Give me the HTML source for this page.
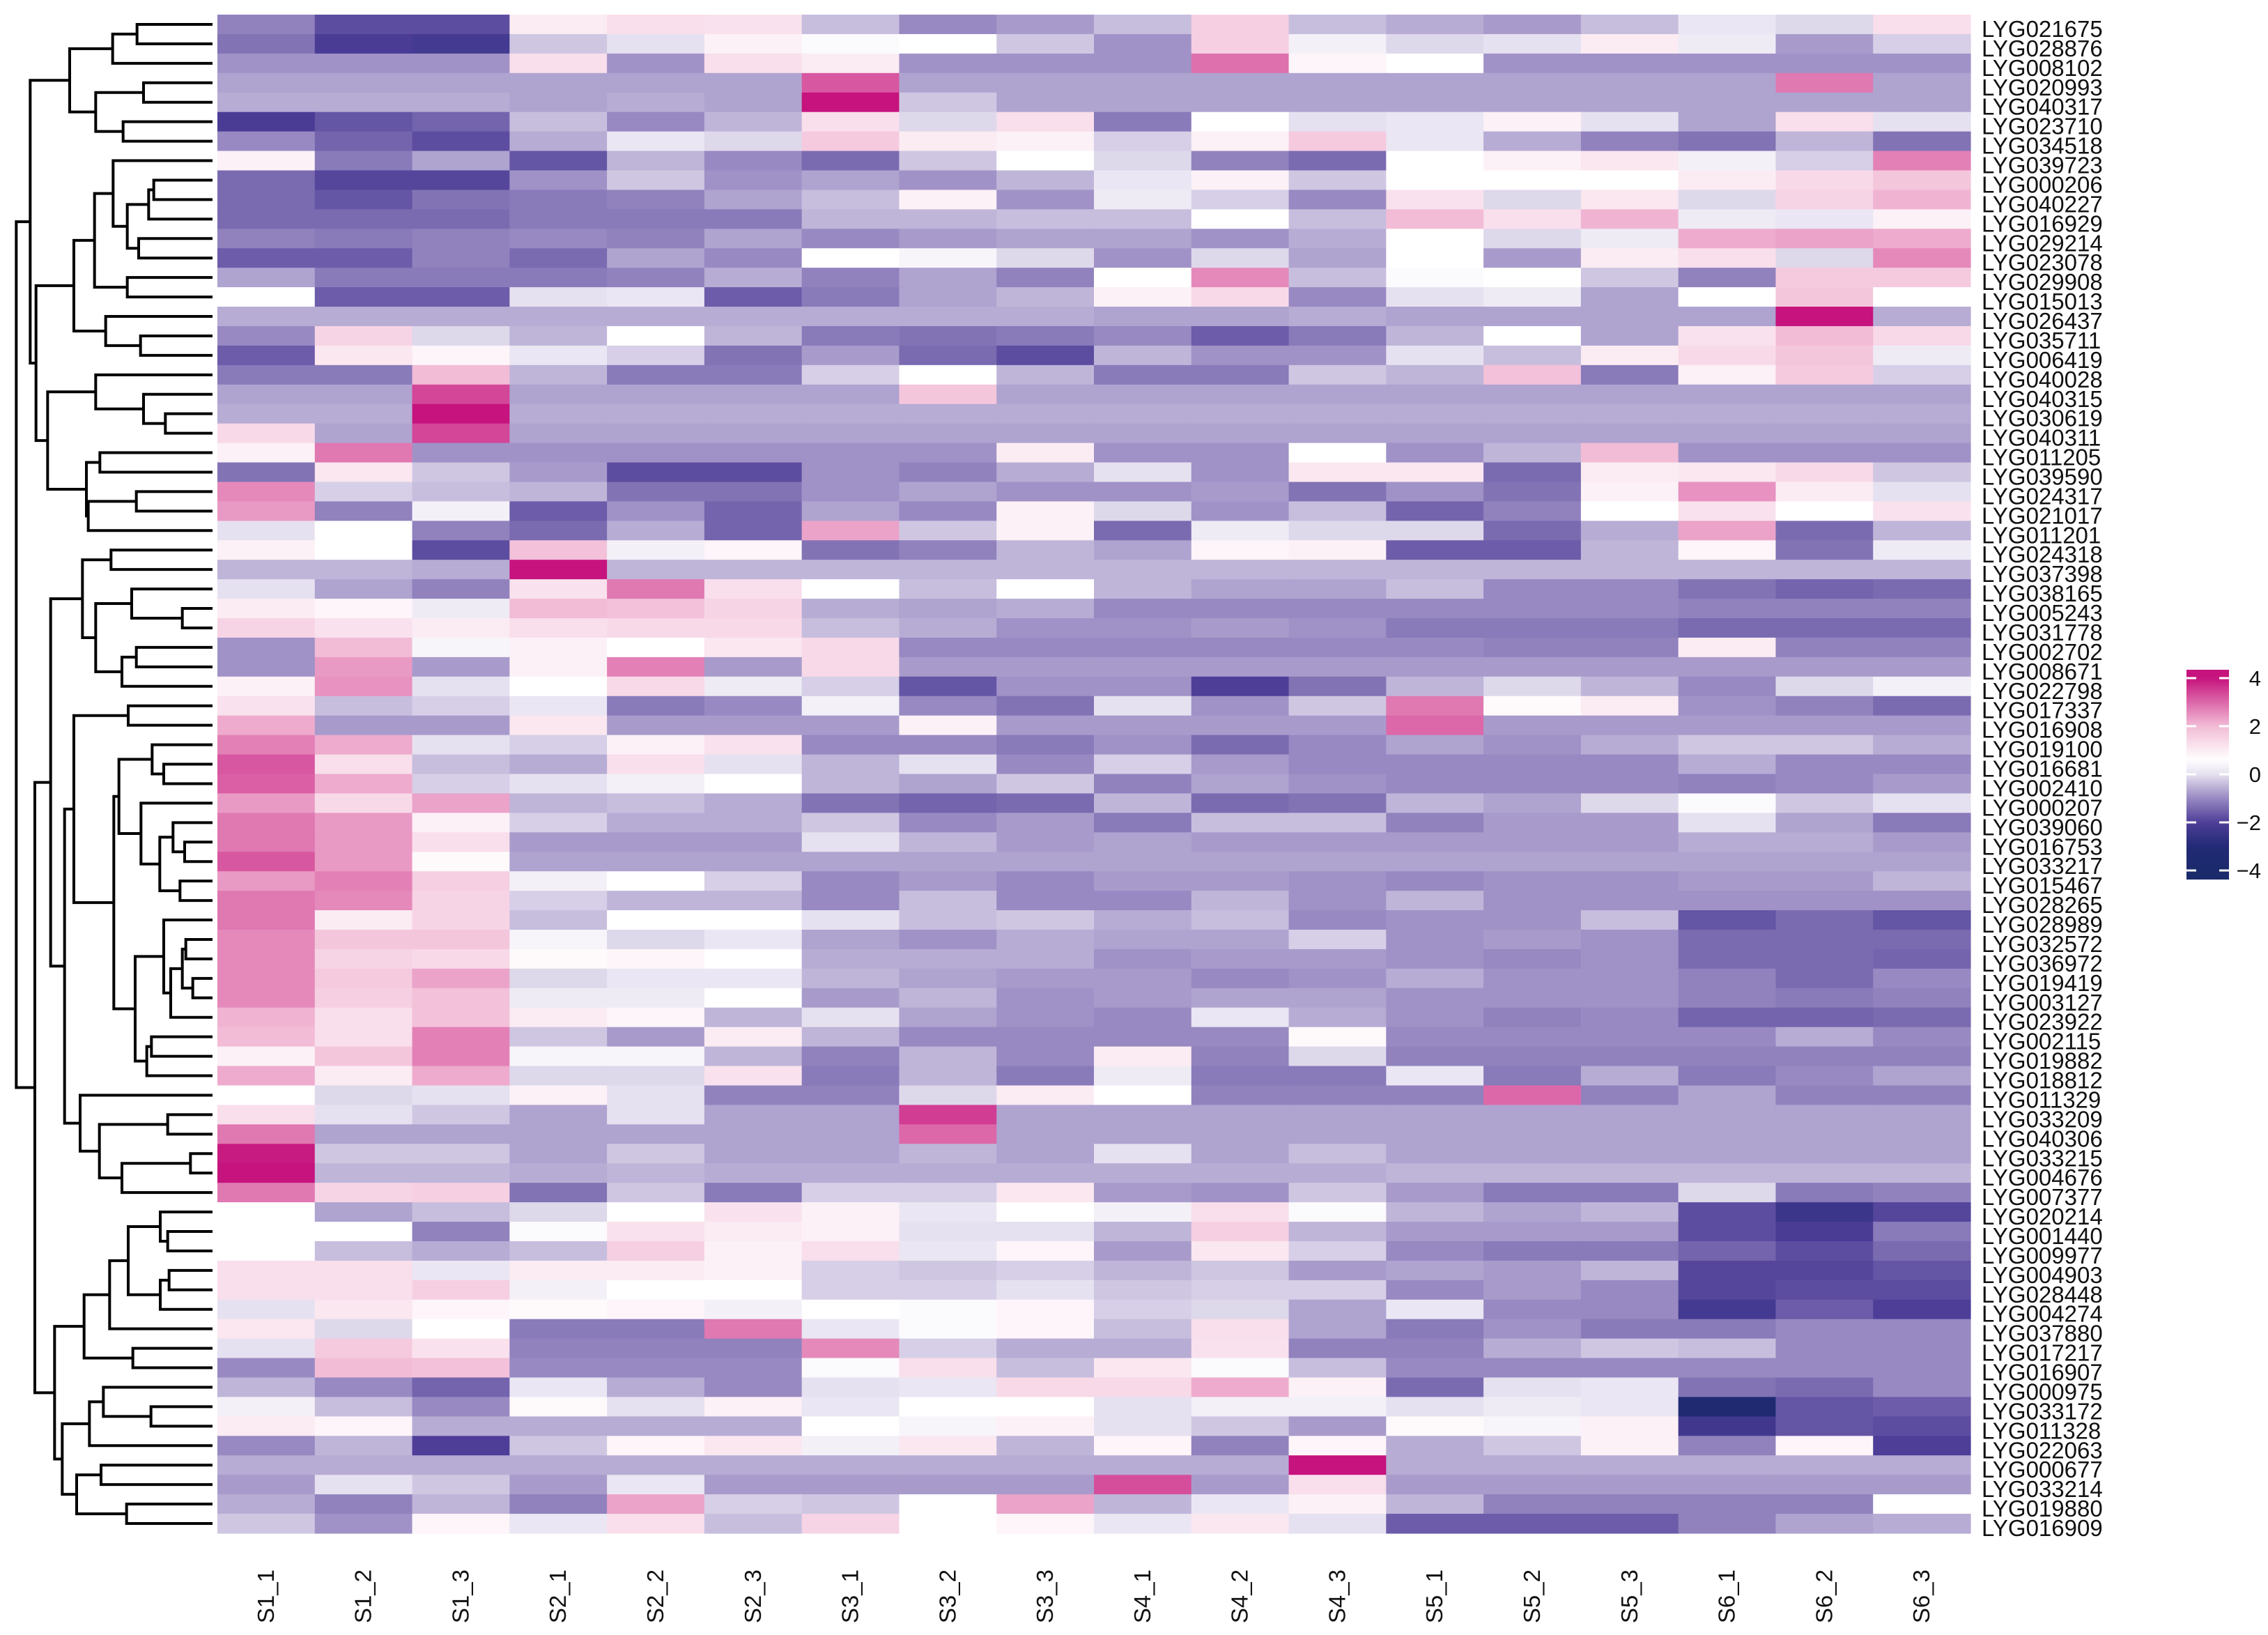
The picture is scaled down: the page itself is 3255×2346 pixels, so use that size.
<!DOCTYPE html>
<html><head><meta charset="utf-8"><style>
html,body{margin:0;padding:0;background:#fff;}
svg{display:block;font-family:"Liberation Sans",Arial,sans-serif;}
</style></head><body>
<svg id="chart" width="3255" height="2346" viewBox="0 0 3255 2346" xmlns="http://www.w3.org/2000/svg">
<rect x="0" y="0" width="3255" height="2346" fill="#fff"/>
<g id="dendro"></g>
<g id="cells"></g>
<g id="rowlabels"></g>
<g id="collabels"></g>
<g id="legend">
<defs><linearGradient id="lg" x1="0" y1="1" x2="0" y2="0"></linearGradient></defs>
</g>
</svg>
<script>
const rowLabels = ["LYG021675","LYG028876","LYG008102","LYG020993","LYG040317","LYG023710","LYG034518","LYG039723","LYG000206","LYG040227","LYG016929","LYG029214","LYG023078","LYG029908","LYG015013","LYG026437","LYG035711","LYG006419","LYG040028","LYG040315","LYG030619","LYG040311","LYG011205","LYG039590","LYG024317","LYG021017","LYG011201","LYG024318","LYG037398","LYG038165","LYG005243","LYG031778","LYG002702","LYG008671","LYG022798","LYG017337","LYG016908","LYG019100","LYG016681","LYG002410","LYG000207","LYG039060","LYG016753","LYG033217","LYG015467","LYG028265","LYG028989","LYG032572","LYG036972","LYG019419","LYG003127","LYG023922","LYG002115","LYG019882","LYG018812","LYG011329","LYG033209","LYG040306","LYG033215","LYG004676","LYG007377","LYG020214","LYG001440","LYG009977","LYG004903","LYG028448","LYG004274","LYG037880","LYG017217","LYG016907","LYG000975","LYG033172","LYG011328","LYG022063","LYG000677","LYG033214","LYG019880","LYG016909"];
const colLabels = ["S1_1","S1_2","S1_3","S2_1","S2_2","S2_3","S3_1","S3_2","S3_3","S4_1","S4_2","S4_3","S5_1","S5_2","S5_3","S6_1","S6_2","S6_3"];
const legendTicks = [4,2,0,-2,-4];
const values = [
[-1.1,-1.8,-1.8,1.0,1.3,1.2,-0.4,-1.0,-0.8,-0.4,1.6,-0.4,-0.6,-0.8,-0.4,0.1,-0.1,1.3],
[-1.3,-2.1,-2.2,-0.3,0.0,0.9,0.5,0.6,-0.3,-0.9,1.6,0.3,-0.1,0.0,1.0,0.2,-0.8,-0.2],
[-0.9,-0.9,-0.9,1.3,-0.9,1.3,1.0,-0.9,-0.9,-0.9,2.9,0.8,0.6,-0.9,-0.9,-0.9,-0.9,-0.9],
[-0.7,-0.7,-0.7,-0.7,-0.7,-0.7,3.2,-0.7,-0.7,-0.7,-0.7,-0.7,-0.7,-0.7,-0.7,-0.7,2.8,-0.7],
[-0.6,-0.6,-0.6,-0.7,-0.6,-0.7,4.0,-0.3,-0.7,-0.7,-0.7,-0.7,-0.7,-0.7,-0.7,-0.7,-0.7,-0.7],
[-2.1,-1.7,-1.5,-0.4,-1.0,-0.5,1.3,-0.1,1.3,-1.2,0.6,0.0,0.1,0.9,0.0,-0.7,1.3,0.0],
[-1.0,-1.5,-1.8,-0.6,0.1,-0.1,1.7,1.0,0.9,-0.2,0.9,1.7,0.1,-0.6,-1.1,-1.3,-0.5,-1.3],
[0.9,-1.2,-0.7,-1.7,-0.5,-1.0,-1.4,-0.3,0.6,-0.1,-1.1,-1.4,0.6,0.9,1.1,0.3,-0.2,2.7],
[-1.4,-1.9,-1.9,-0.9,-0.3,-0.9,-0.7,-0.9,-0.5,0.1,0.9,-0.3,0.6,0.6,0.6,1.0,1.4,1.8],
[-1.4,-1.7,-1.3,-1.2,-1.1,-0.7,-0.4,0.9,-0.9,0.2,-0.2,-1.0,1.2,-0.1,1.1,-0.1,1.5,2.1],
[-1.4,-1.4,-1.4,-1.2,-1.2,-1.2,-0.5,-0.5,-0.4,-0.4,0.6,-0.4,2.0,1.3,2.1,0.2,0.1,0.9],
[-1.1,-1.2,-1.1,-1.0,-1.1,-0.7,-1.0,-0.8,-0.7,-0.7,-0.9,-0.6,0.6,-0.1,0.2,2.2,2.3,2.2],
[-1.6,-1.6,-1.1,-1.4,-0.7,-1.0,0.6,0.4,-0.1,-0.9,-0.1,-0.7,0.6,-0.8,1.0,1.3,-0.1,2.6],
[-0.7,-1.2,-1.2,-1.2,-1.1,-0.6,-1.1,-0.7,-1.1,0.6,2.6,-0.4,0.5,0.6,-0.3,-1.1,1.7,1.7],
[0.6,-1.6,-1.6,0.0,0.1,-1.6,-1.2,-0.7,-0.5,0.9,1.4,-1.0,0.0,0.2,-0.7,0.6,1.8,0.6],
[-0.6,-0.6,-0.6,-0.6,-0.6,-0.6,-0.6,-0.6,-0.6,-0.7,-0.7,-0.6,-0.7,-0.7,-0.7,-0.7,4.0,-0.6],
[-1.0,1.5,-0.1,-0.5,0.6,-0.5,-1.2,-1.3,-1.2,-1.0,-1.6,-1.2,-0.5,0.6,-0.7,1.2,2.0,1.4],
[-1.6,1.1,0.8,0.1,-0.2,-1.3,-0.8,-1.4,-1.8,-0.5,-0.9,-0.9,0.0,-0.4,1.0,1.4,1.8,0.2],
[-1.2,-1.2,2.0,-0.5,-1.2,-1.2,-0.2,0.6,-0.5,-1.2,-1.2,-0.3,-0.5,1.9,-1.2,0.9,1.7,-0.2],
[-0.7,-0.7,3.4,-0.7,-0.7,-0.7,-0.7,1.8,-0.7,-0.7,-0.7,-0.7,-0.7,-0.7,-0.7,-0.7,-0.7,-0.7],
[-0.6,-0.6,4.0,-0.6,-0.6,-0.6,-0.6,-0.6,-0.6,-0.6,-0.6,-0.6,-0.6,-0.6,-0.6,-0.6,-0.6,-0.6],
[1.4,-0.7,3.4,-0.7,-0.7,-0.7,-0.7,-0.7,-0.7,-0.7,-0.7,-0.7,-0.7,-0.7,-0.7,-0.7,-0.7,-0.7],
[0.9,2.8,-0.9,-0.9,-0.9,-0.9,-0.9,-0.9,1.0,-0.9,-0.9,0.6,-0.9,-0.5,2.0,-0.9,-0.9,-0.9],
[-1.3,1.1,-0.3,-0.8,-1.8,-1.8,-0.9,-1.1,-0.6,0.0,-0.9,1.1,1.1,-1.4,1.0,1.1,1.4,-0.3],
[2.6,-0.2,-0.4,-0.5,-1.3,-1.3,-0.9,-0.7,-0.9,-0.9,-0.8,-1.3,-0.9,-1.3,0.9,2.5,1.0,0.0],
[2.4,-1.1,0.3,-1.6,-0.9,-1.5,-0.7,-1.0,0.9,-0.1,-0.9,-0.4,-1.5,-1.1,0.6,1.2,0.6,1.2],
[0.0,0.6,-1.1,-1.4,-0.6,-1.5,2.3,-0.3,0.9,-1.4,0.2,-0.1,-0.1,-1.4,-0.6,2.3,-1.4,-0.5],
[0.9,0.6,-1.8,1.9,0.3,0.8,-1.3,-1.1,-0.5,-0.7,0.8,0.9,-1.6,-1.6,-0.5,0.8,-1.3,0.2],
[-0.5,-0.5,-0.6,4.0,-0.5,-0.5,-0.5,-0.5,-0.5,-0.5,-0.5,-0.5,-0.5,-0.5,-0.5,-0.5,-0.5,-0.5],
[0.0,-0.7,-1.1,1.2,2.8,1.3,0.6,-0.4,0.6,-0.5,-0.7,-0.7,-0.4,-1.0,-1.0,-1.3,-1.5,-1.4],
[1.0,0.8,0.2,2.0,1.9,1.5,-0.6,-0.7,-0.6,-1.0,-1.0,-1.0,-1.0,-1.0,-1.0,-1.1,-1.1,-1.1],
[1.5,1.2,1.0,1.3,1.4,1.4,-0.4,-0.6,-0.9,-0.9,-0.8,-0.9,-1.2,-1.2,-1.2,-1.4,-1.4,-1.4],
[-0.9,2.0,0.4,0.9,0.6,1.1,1.4,-1.0,-1.0,-1.0,-1.0,-1.0,-1.0,-1.1,-1.1,1.0,-1.1,-1.1],
[-0.9,2.4,-0.8,0.9,2.7,-0.8,1.4,-0.8,-0.8,-0.8,-0.8,-0.8,-0.8,-0.8,-0.8,-0.8,-0.8,-0.8],
[0.9,2.5,0.0,0.6,1.4,0.2,-0.2,-1.7,-0.9,-0.9,-2.0,-1.3,-0.5,-0.1,-0.5,-1.0,-0.1,0.3],
[1.2,-0.4,-0.2,0.1,-1.2,-1.0,0.3,-1.0,-1.3,0.0,-0.9,-0.3,2.8,0.7,1.0,-0.9,-1.1,-1.4],
[2.2,-0.8,-0.8,1.1,-0.8,-0.8,-0.8,0.9,-0.8,-0.8,-0.8,-0.8,3.0,-0.8,-0.8,-0.8,-0.8,-0.8],
[2.7,2.2,0.0,-0.2,0.9,1.2,-1.0,-1.0,-1.2,-0.9,-1.4,-1.0,-0.7,-0.9,-0.6,-0.3,-0.3,-0.6],
[3.2,1.3,-0.4,-0.6,1.3,0.0,-0.5,0.0,-1.0,-0.2,-0.8,-1.0,-1.0,-1.0,-1.0,-0.6,-1.0,-1.0],
[3.1,2.2,-0.2,0.0,0.3,0.6,-0.5,-0.7,-0.3,-1.1,-0.7,-0.9,-1.0,-1.0,-1.0,-1.1,-1.0,-0.8],
[2.4,1.4,2.3,-0.5,-0.4,-0.6,-1.3,-1.5,-1.4,-0.5,-1.4,-1.3,-0.5,-0.7,-0.1,0.5,-0.3,0.0],
[2.8,2.4,0.9,-0.2,-0.6,-0.6,-0.3,-1.0,-0.8,-1.2,-0.4,-0.4,-1.1,-0.8,-0.8,0.0,-0.7,-1.2],
[2.8,2.4,1.3,-0.8,-0.8,-0.8,0.0,-0.5,-0.8,-0.7,-0.8,-0.8,-0.8,-0.8,-0.8,-0.6,-0.6,-0.8],
[3.2,2.4,0.7,-0.7,-0.7,-0.7,-0.7,-0.7,-0.7,-0.7,-0.7,-0.7,-0.7,-0.7,-0.7,-0.7,-0.7,-0.7],
[2.4,2.7,1.6,0.3,0.6,-0.2,-1.0,-0.8,-1.0,-0.8,-0.8,-0.9,-1.0,-0.9,-0.9,-0.8,-0.8,-0.5],
[2.8,2.6,1.5,-0.2,-0.5,-0.5,-1.0,-0.4,-1.0,-1.0,-0.5,-0.9,-0.5,-0.9,-0.9,-0.9,-0.9,-0.9],
[2.8,1.0,1.5,-0.4,0.6,0.6,0.0,-0.4,-0.3,-0.6,-0.4,-1.0,-0.9,-0.9,-0.4,-1.7,-1.4,-1.7],
[2.6,1.8,1.8,0.4,-0.1,0.1,-0.7,-0.9,-0.6,-0.7,-0.7,-0.2,-0.9,-0.8,-0.9,-1.4,-1.4,-1.4],
[2.6,1.5,1.4,0.7,0.8,0.6,-0.6,-0.6,-0.6,-0.9,-0.8,-0.8,-0.9,-1.0,-0.9,-1.4,-1.4,-1.5],
[2.6,1.7,2.3,-0.1,0.1,0.1,-0.5,-0.7,-0.8,-0.8,-1.0,-0.9,-0.6,-0.9,-0.9,-1.1,-1.4,-1.0],
[2.6,1.6,1.9,0.2,0.2,0.6,-0.8,-0.5,-0.9,-0.8,-0.7,-0.7,-0.9,-0.9,-0.9,-1.1,-1.2,-1.1],
[2.1,1.3,1.9,1.0,0.8,-0.5,0.0,-0.7,-0.9,-1.0,0.1,-0.6,-0.9,-1.1,-1.0,-1.5,-1.5,-1.4],
[2.0,1.3,2.7,-0.3,-0.8,1.0,-0.5,-1.0,-1.0,-1.0,-1.0,0.7,-1.0,-1.0,-1.0,-1.0,-0.6,-1.0],
[0.9,1.8,2.7,0.4,0.4,-0.5,-1.1,-0.5,-1.0,1.0,-1.1,-0.1,-1.1,-1.1,-1.1,-1.1,-1.1,-1.1],
[2.2,1.0,2.2,-0.1,-0.1,1.2,-1.2,-0.5,-1.2,0.2,-1.2,-1.2,0.1,-1.2,-0.6,-1.2,-1.0,-0.7],
[0.6,-0.1,0.0,0.9,0.0,-1.1,-1.1,-0.1,1.0,0.6,-1.1,-1.1,-1.1,3.0,-1.1,-0.7,-1.1,-1.1],
[1.3,0.0,-0.3,-0.7,0.0,-0.7,-0.7,3.5,-0.7,-0.7,-0.7,-0.7,-0.7,-0.7,-0.7,-0.7,-0.7,-0.7],
[2.8,-0.7,-0.7,-0.7,-0.7,-0.7,-0.7,3.0,-0.7,-0.7,-0.7,-0.7,-0.7,-0.7,-0.7,-0.7,-0.7,-0.7],
[3.9,-0.3,-0.3,-0.7,-0.3,-0.7,-0.7,-0.5,-0.7,0.0,-0.7,-0.4,-0.7,-0.7,-0.7,-0.7,-0.7,-0.7],
[4.0,-0.5,-0.5,-0.6,-0.5,-0.6,-0.6,-0.6,-0.6,-0.6,-0.6,-0.6,-0.5,-0.5,-0.5,-0.5,-0.5,-0.5],
[2.8,1.5,1.6,-1.3,-0.3,-1.2,-0.2,-0.2,1.1,-0.8,-0.9,-0.3,-0.8,-1.2,-1.2,-0.1,-1.2,-1.1],
[0.6,-0.7,-0.4,-0.1,0.6,1.2,0.9,0.1,0.6,0.3,1.3,0.5,-0.5,-0.7,-0.5,-1.8,-2.4,-1.9],
[0.6,0.6,-1.1,0.5,1.2,1.0,0.9,0.0,0.0,-0.5,1.6,-0.5,-0.8,-0.8,-0.8,-1.8,-2.1,-1.2],
[0.6,-0.4,-0.6,-0.4,1.6,0.9,1.3,0.1,0.8,-0.8,1.1,-0.2,-1.0,-1.2,-1.2,-1.5,-1.8,-1.4],
[1.3,1.3,0.1,1.0,1.0,0.9,-0.2,-0.3,-0.2,-0.5,-0.3,-0.8,-0.7,-0.8,-0.5,-1.9,-1.9,-1.7],
[1.3,1.3,1.6,0.3,0.6,0.6,-0.2,-0.2,0.0,-0.3,-0.2,-0.2,-1.0,-0.8,-1.0,-1.9,-1.8,-1.8],
[0.0,1.1,0.8,0.7,0.8,0.3,0.6,0.5,0.8,-0.2,-0.1,-0.7,0.1,-1.0,-1.0,-2.2,-1.6,-2.0],
[1.1,-0.1,0.6,-1.2,-1.2,2.8,0.1,0.5,0.8,-0.4,1.3,-0.7,-1.2,-0.9,-1.2,-1.2,-1.0,-1.0],
[0.0,1.7,1.2,-1.1,-1.1,-1.1,2.6,-0.2,-0.6,-0.6,1.2,-1.1,-1.1,-0.6,-0.3,-0.4,-1.0,-1.0],
[-1.0,2.0,1.9,-1.0,-1.0,-1.0,0.5,1.3,-0.4,1.1,0.5,-0.4,-1.0,-1.0,-1.0,-1.0,-1.0,-1.0],
[-0.5,-1.0,-1.5,0.1,-0.6,-1.0,0.0,0.1,1.4,1.4,2.2,0.9,-1.4,0.0,0.1,-1.3,-1.4,-1.0],
[0.3,-0.4,-1.0,0.7,0.0,0.9,0.1,0.6,0.6,0.0,0.3,0.3,0.0,0.2,0.1,-3.5,-1.7,-1.6],
[1.0,0.8,-0.6,-0.6,-0.6,-0.6,0.6,0.4,0.9,0.0,-0.3,-0.8,0.7,0.4,0.9,-2.3,-1.7,-1.8],
[-1.0,-0.5,-2.0,-0.3,0.8,1.1,0.3,1.1,-0.5,0.8,-1.1,0.8,-0.6,-0.3,0.9,-1.1,0.8,-2.0],
[-0.6,-0.6,-0.6,-0.6,-0.6,-0.6,-0.6,-0.6,-0.6,-0.6,-0.6,4.0,-0.6,-0.6,-0.6,-0.6,-0.6,-0.6],
[-0.8,0.0,-0.3,-0.8,0.1,-0.8,-0.8,-0.8,-0.8,3.3,-0.8,1.3,-0.8,-0.8,-0.8,-0.8,-0.8,-0.8],
[-0.6,-1.1,-0.5,-1.1,2.3,-0.2,-0.3,0.6,2.3,-0.5,0.1,0.9,-0.5,-1.1,-1.1,-1.1,-1.1,0.6],
[-0.3,-0.9,0.8,0.1,1.3,-0.4,1.5,0.6,0.8,0.1,1.1,0.0,-1.6,-1.6,-1.6,-1.1,-0.7,-0.6]
];
// dendrogram merges: [height-position, left, right]; leaves are row indices
function N(h,a,b){return {h:h,a:a,b:b};}
const A=N(590,0,1),B=N(485,A,2),C=N(618,3,4),D=N(530,5,6),E=N(412,C,D),F=N(300,B,E);
const n662=N(662,8,9),n640=N(640,n662,10),n597=N(597,11,12),n548a=N(548,n640,n597),n487=N(487,7,n548a),n548b=N(548,13,14),n407=N(407,n487,n548b),n605=N(605,16,17),n455=N(455,15,n605),I=N(318,n407,n455);
const n712=N(712,20,21),n618=N(618,19,n712),n412=N(412,18,n618),n430=N(430,22,23),n587=N(587,24,25),n380=N(380,n587,26),n372=N(372,n430,n380),n205=N(205,n412,n372),H=N(155,I,n205),G=N(130,F,H);
const n478=N(478,27,28),n785=N(785,30,31),n567=N(567,29,n785),n587b=N(587,32,33),n525=N(525,n587b,34),n412b=N(412,n567,n525),n355=N(355,n478,n412b);
const n552=N(552,35,36),n705=N(705,38,39),n655=N(655,37,n705),n795=N(795,42,43),n745=N(745,41,n795),n775=N(775,44,45),n688=N(688,n745,n775),n607=N(607,40,n688),n512=N(512,n655,n607),n800=N(800,47,48),n830=N(830,49,50),n785b=N(785,n800,n830),n735=N(735,n785b,51),n705b=N(705,46,n735),n652=N(652,52,53),n632=N(632,n652,54),n582=N(582,n705b,n632),n490=N(490,n512,n582),L=N(318,n552,n490);
const n722=N(722,56,57),n820=N(820,58,59),n525b=N(525,n820,60),n428=N(428,n722,n525b),n345=N(345,55,n428),n278=N(278,L,n345),K=N(218,n355,n278);
const n722b=N(722,62,63),n690=N(690,61,n722b),n728=N(728,64,65),n690b=N(690,n728,66),n552b=N(552,n690,n690b),n472=N(472,n552b,67),n572=N(572,68,69),n362=N(362,n472,n572),n650=N(650,71,72),n445=N(445,70,n650),n385=N(385,n445,73),n435=N(435,74,75),n545=N(545,76,77),n330=N(330,n435,n545),n268=N(268,n385,n330),n235=N(235,n362,n268),J=N(150,K,n235),root=N(70,G,J);

const NS="http://www.w3.org/2000/svg";
const X0=312,X1=2828,Y0=21,Y1=2200;
const nR=rowLabels.length,nC=colLabels.length;
const cw=(X1-X0)/nC,rh=(Y1-Y0)/nR;
function xCol(j){return X0+j*cw;}
function yRow(i){return Y0+i*rh;}
const stops=[[-4,[27,42,107]],[-3,[34,42,118]],[-2,[78,62,152]],[-1,[152,137,194]],[0,[230,225,240]],[0.6,[255,255,255]],[2,[242,188,214]],[4,[198,19,125]]];
function color(v){
  if(v<=stops[0][0])return rgb(stops[0][1]);
  for(let k=1;k<stops.length;k++){
    if(v<=stops[k][0]){const [a,ca]=stops[k-1],[b,cb]=stops[k];const t=(v-a)/(b-a);
      return rgb(ca.map((c,i)=>c+(cb[i]-c)*t));}
  }
  return rgb(stops[stops.length-1][1]);
}
function rgb(c){return "rgb("+c.map(x=>Math.round(x)).join(",")+")";}
function mk(tag,attrs,parent){const e=document.createElementNS(NS,tag);for(const k in attrs)e.setAttribute(k,attrs[k]);parent.appendChild(e);return e;}

const cells=document.getElementById('cells');
for(let i=0;i<nR;i++)for(let j=0;j<nC;j++){
  const r=mk('rect',{x:xCol(j),y:yRow(i),width:cw+0.6,height:rh+0.6,fill:color(values[i][j])},cells);
  
  
}
const rl=document.getElementById('rowlabels');
rowLabels.forEach((t,i)=>{
  const e=mk('text',{x:2844,y:yRow(i)+rh/2+18,'font-size':33,fill:'#111'},rl);
  e.textContent=t;
  
  
});
const cl=document.getElementById('collabels');
colLabels.forEach((t,j)=>{
  const cx=xCol(j)+cw/2+11;
  const e=mk('text',{x:cx,y:2252,'font-size':33,fill:'#111','text-anchor':'end',transform:'rotate(-90 '+cx+' 2252)'},cl);
  e.textContent=t;
  
  
});
// dendrogram
const dg=document.getElementById('dendro');
const LEAFX=305;
function draw(n){
  if(typeof n==='number')return {x:LEAFX,y:yRow(n)+rh/2};
  const a=draw(n.a),b=draw(n.b),x=n.h/3;
  const p=mk('path',{d:'M'+a.x+' '+a.y+'H'+x+'V'+b.y+'H'+b.x,fill:'none',stroke:'#000','stroke-width':4},dg);
  
  
  return {x:x,y:(a.y+b.y)/2};
}
draw(root);
// legend
const lgd=document.getElementById('legend');
const grad=document.getElementById('lg');
const LV0=-4.38,LV1=4.35,LY0=961,LY1=1262;
for(let k=0;k<=40;k++){const v=LV0+(LV1-LV0)*k/40;mk('stop',{offset:(k/40),'stop-color':color(v)},grad);}
const bar=mk('rect',{x:3138,y:LY0,width:61,height:LY1-LY0,fill:'url(#lg)'},lgd);


function yLeg(v){return 1111-v*34.5;}
legendTicks.forEach(v=>{
  const y=yLeg(v);
  mk('line',{x1:3138,x2:3152,y1:y,y2:y,stroke:'#fff','stroke-width':3},lgd);
  mk('line',{x1:3185,x2:3199,y1:y,y2:y,stroke:'#fff','stroke-width':3},lgd);
  const t=mk('text',{x:3245,y:y+11,'font-size':31,fill:'#111','text-anchor':'end'},lgd);
  t.textContent=(v<0?'\u2212'+(-v):String(v));
  
  
});
</script>
</body></html>
